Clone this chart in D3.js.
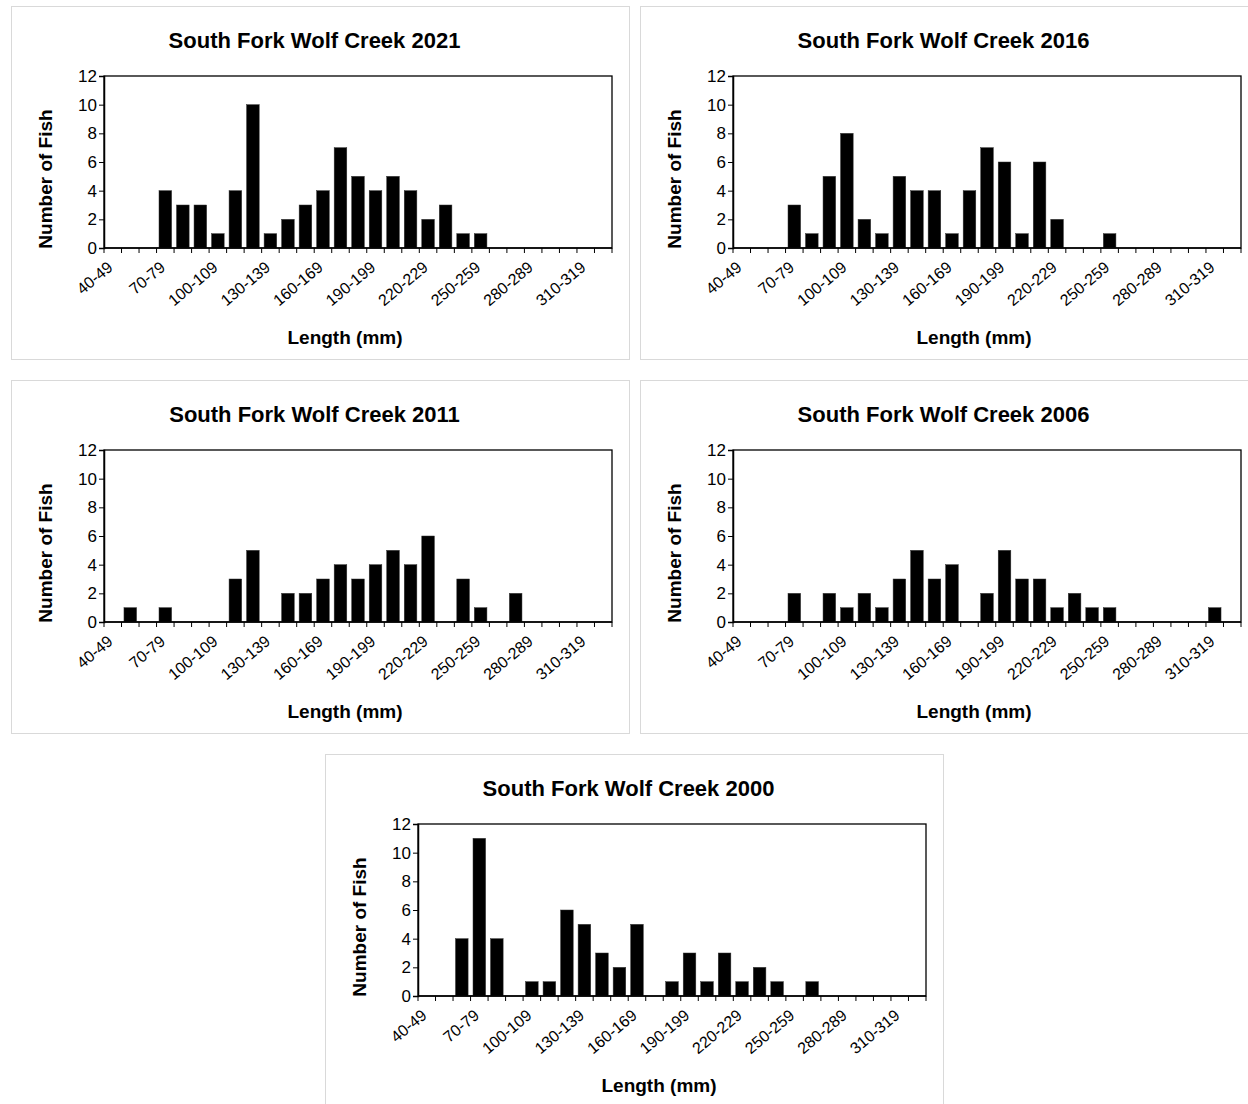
<!DOCTYPE html>
<html><head><meta charset="utf-8">
<script src="https://cdn.jsdelivr.net/npm/d3@7"></script>
<style>body{margin:0;background:#fff;} svg{display:block;}</style>
</head><body>
<script>
const categories = ["40-49","50-59","60-69","70-79","80-89","90-99","100-109","110-119","120-129","130-139","140-149","150-159","160-169","170-179","180-189","190-199","200-209","210-219","220-229","230-239","240-249","250-259","260-269","270-279","280-289","290-299","300-309","310-319","320-329"];
const tickLabels = ["40-49","70-79","100-109","130-139","160-169","190-199","220-229","250-259","280-289","310-319"];
const yTicks = [0,2,4,6,8,10,12];
const years = ["2021","2016","2011","2006","2000"];
const v2021 = [0,0,0,4,3,3,1,4,10,1,2,3,4,7,5,4,5,4,2,3,1,1,0,0,0,0,0,0,0];
const v2016 = [0,0,0,3,1,5,8,2,1,5,4,4,1,4,7,6,1,6,2,0,0,1,0,0,0,0,0,0,0];
const v2011 = [0,1,0,1,0,0,0,3,5,0,2,2,3,4,3,4,5,4,6,0,3,1,0,2,0,0,0,0,0];
const v2006 = [0,0,0,2,0,2,1,2,1,3,5,3,4,0,2,5,3,3,1,2,1,1,0,0,0,0,0,1,0];
const v2000 = [0,0,4,11,4,0,1,1,6,5,3,2,5,0,1,3,1,3,1,2,1,0,1,0,0,0,0,0,0];
const seriesValues = [v2021, v2016, v2011, v2006, v2000];

const W = 1248, H = 1104;
const panelPos = [[11,6],[640,6],[11,380],[640,380],[325,754]];
const PW = 618, PH = 353;
const plot = {l:93, r:601, t:70, b:242};
const font = "'Liberation Sans', Arial, sans-serif";

const svg = d3.select("body").append("svg").attr("width", W).attr("height", H);

const x = d3.scaleBand().domain(categories).range([plot.l, plot.r]).paddingInner(0.28).paddingOuter(0.14);
const y = d3.scaleLinear().domain([0,12]).range([plot.b, plot.t]);
const step = x.step();
const bound = i => plot.l + i*step;

years.forEach((yr, pi) => {
  const [px, py] = panelPos[pi];
  const g = svg.append("g").attr("transform", `translate(${px},${py})`);
  g.append("rect").attr("x",0.5).attr("y",0.5).attr("width",PW).attr("height",PH)
    .attr("fill","#fff").attr("stroke","#d9d9d9").attr("stroke-width",1);

  g.append("text").attr("x",303.5).attr("y",42).attr("text-anchor","middle")
    .attr("font-family",font).attr("font-weight","bold").attr("font-size",22)
    .text("South Fork Wolf Creek " + yr);

  // plot border
  g.append("rect").attr("x",plot.l).attr("y",plot.t).attr("width",plot.r-plot.l).attr("height",plot.b-plot.t)
    .attr("fill","none").attr("stroke","#000").attr("stroke-width",1.3);

  // bars
  const vals = seriesValues[pi];
  g.selectAll("rect.bar").data(categories.map((c,i)=>({c, v: vals[i]})).filter(d=>d.v>0))
    .enter().append("rect").attr("class","bar")
    .attr("x", d=>x(d.c)).attr("width", x.bandwidth())
    .attr("y", d=>y(d.v)).attr("height", d=>y(0)-y(d.v))
    .attr("fill","#000").attr("stroke","#333").attr("stroke-width",0.5);

  // y axis
  const ya = g.append("g").attr("transform",`translate(${plot.l},0)`)
    .call(d3.axisLeft(y).tickValues(yTicks).tickSize(5).tickPadding(2));
  ya.select(".domain").attr("stroke","#000").attr("stroke-width",1.5);
  ya.selectAll(".tick line").attr("stroke","#000").attr("stroke-width",1);
  ya.selectAll(".tick text").attr("font-family",font).attr("font-size",17).attr("fill","#000");

  // x axis line
  g.append("line").attr("x1",plot.l).attr("x2",plot.r).attr("y1",plot.b).attr("y2",plot.b)
    .attr("stroke","#000").attr("stroke-width",1.5);
  // x ticks at category boundaries
  g.selectAll("line.xt").data(d3.range(categories.length+1)).enter().append("line")
    .attr("x1",i=>bound(i)).attr("x2",i=>bound(i)).attr("y1",plot.b).attr("y2",plot.b+5)
    .attr("stroke","#000").attr("stroke-width",1);
  // x tick labels
  g.selectAll("text.xl").data(tickLabels).enter().append("text")
    .attr("transform", d=>`translate(${x(d)+x.bandwidth()/2+1},${plot.b+21}) rotate(-40)`)
    .attr("text-anchor","end").attr("font-family",font).attr("font-size",16).attr("fill","#000")
    .text(d=>d);

  // axis titles
  g.append("text").attr("transform",`translate(41,173) rotate(-90)`).attr("text-anchor","middle")
    .attr("font-family",font).attr("font-weight","bold").attr("font-size",19).text("Number of Fish");
  g.append("text").attr("x",334).attr("y",338).attr("text-anchor","middle")
    .attr("font-family",font).attr("font-weight","bold").attr("font-size",19).text("Length (mm)");
});
</script>
</body></html>
